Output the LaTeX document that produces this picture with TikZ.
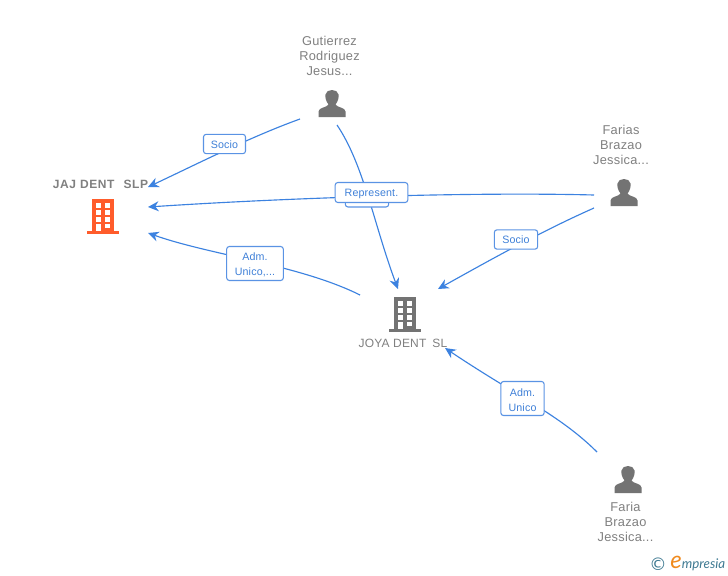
\documentclass[tikz,border=0pt]{standalone}
\usepackage{fontspec}
\setmainfont{Liberation Sans}
\newfontfamily\logofont{Lato}
\newfontfamily\copyfont{DejaVu Sans}
\usetikzlibrary{arrows.meta}
\definecolor{linkblue}{HTML}{3C82E0}
\definecolor{boxblue}{HTML}{5A93E4}
\definecolor{labelblue}{HTML}{3F80D8}
\definecolor{nodegray}{HTML}{737373}
\definecolor{textgray}{HTML}{808080}
\definecolor{orangeb}{HTML}{FF5C2B}
\definecolor{logoteal}{HTML}{3F7A92}
\definecolor{logoorange}{HTML}{F08A1D}
\tikzset{
  x=0.75pt,y=-0.75pt,
  link/.style={draw=linkblue,line width=0.85pt,-{Stealth[length=8pt,width=7.5pt,inset=2.6pt]}},
  rel/.style={draw=boxblue,line width=0.8pt,fill=white,rounded corners=2pt,text=labelblue,
    font=\addfontfeatures{LetterSpace=1.5}\fontsize{8}{11.3}\selectfont,align=center,inner sep=0pt},
  who/.style={text=textgray,font=\addfontfeatures{LetterSpace=2}\fontsize{9.6}{11.3}\selectfont,align=center,inner sep=0pt},
  firm/.style={text=textgray,font=\bfseries\addfontfeatures{LetterSpace=5}\fontsize{9}{10}\selectfont,inner sep=0pt},
  firmb/.style={text=textgray,font=\addfontfeatures{LetterSpace=1.5}\fontsize{9}{10}\selectfont,inner sep=0pt}
}
% person icon centred on #1
\newcommand{\personicon}[1]{%
  \begin{scope}[shift={(#1)}]
    \fill[nodegray] (-13.5,13.5) -- (-13.5,8) .. controls (-13.5,4) and (-5,4) .. (-3.5,1)
      .. controls (-6,-2) and (-7,-6) .. (-6.5,-9) .. controls (-6,-15) and (6,-15) .. (6.5,-9)
      .. controls (7,-6) and (6,-2) .. (3.5,1) .. controls (5,4) and (13.5,4) .. (13.5,8)
      -- (13.5,13.5) -- cycle;
  \end{scope}}
% building icon centred on #1
\newcommand{\buildicon}[2]{%
  \begin{scope}[shift={(#1)}]
    \fill[#2] (-16,14.5) rectangle (16,17.5);
    \fill[#2] (-11,-17) rectangle (11,16);
    \foreach \yy in {-13,-6,1}{
      \fill[white] (-7,\yy) rectangle (-2.5,\yy+4.5);
      \fill[white] (2,\yy) rectangle (6.5,\yy+4.5);}
    \fill[white] (-7,7.5) rectangle (-2.5,14.5);
    \fill[white] (2,7.5) rectangle (6.5,12);
  \end{scope}}
\begin{document}
\begin{tikzpicture}
\useasboundingbox (0,0) rectangle (728,575);
\fill[white] (0,0) rectangle (728,575);

% free connector ends
\coordinate (gutA) at (300,119);
\coordinate (gutB) at (337,125);
\coordinate (farA) at (594,195);
\coordinate (farB) at (594,208);
\coordinate (joyaOutA) at (360,295);
\coordinate (fariaOut) at (597,452);
\coordinate (jajInA) at (148,187);
\coordinate (jajInB) at (148,207);
\coordinate (jajInC) at (148,233);
\coordinate (joyaInA) at (398,289);
\coordinate (joyaInB) at (438,289);
\coordinate (joyaInC) at (445,348);

% connectors
\draw[link] (gutA) .. controls (250,137) and (195,165) .. (jajInA);
\draw[link] (gutB) .. controls (364,165) and (374,225) .. (joyaInA);
\draw[link] (farA) .. controls (480,192) and (300,197) .. (jajInB);
\draw[link] (farB) .. controls (540,232) and (490,260) .. (joyaInB);
\draw[link] (joyaOutA) .. controls (300,265) and (210,255) .. (jajInC);
\draw[link] (fariaOut) .. controls (560,415) and (515,395) .. (joyaInC);

% relation labels
\node[rel,minimum width=32.5pt,minimum height=15pt] (hidden) at (367,197) {};
\node[rel,minimum width=31.5pt,minimum height=14.5pt] (socioA) at (224.5,144) {\rule{0pt}{6.8pt}Socio};
\node[rel,minimum width=54.5pt,minimum height=15pt] (repr) at (371.5,192.5) {\rule{0pt}{7.2pt}Represent.};
\node[rel,minimum width=32.5pt,minimum height=14.5pt] (socioB) at (516,239.5) {\rule{0pt}{6.8pt}Socio};
\node[rel,minimum width=42.5pt,minimum height=25.5pt] (admA) at (255,263.5) {\rule{0pt}{8pt}Adm.\\Unico,...};
\node[rel,minimum width=32.5pt,minimum height=25.5pt] (admB) at (522.5,398.5) {\rule{0pt}{8pt}Adm.\\Unico};

% entities
\buildicon{103,216}{orangeb}
\buildicon{405,314}{nodegray}
\personicon{332,103.5}
\personicon{624,192.5}
\personicon{628,479.5}

\node[firm] (jaj) at (100.5,184) {JAJ DENT\hspace{0.75em}SLP};
\node[firmb] (joya) at (403,343) {JOYA DENT\hspace{0.5em}SL};
\node[who] (gut) at (329.5,56) {Gutierrez\\Rodriguez\\Jesus...};
\node[who] (far) at (621,145) {Farias\\Brazao\\Jessica...};
\node[who] (faria) at (625.5,522) {Faria\\Brazao\\Jessica...};

% logo
\node[inner sep=0pt,text=logoteal,font=\copyfont\fontsize{13}{13}\selectfont] (copy) at (658,564) {©};
\node[inner sep=0pt,anchor=base west,font=\logofont\itshape\fontsize{10}{10}\selectfont,text=logoteal] (logo) at (670,568)
  {\textcolor{logoorange}{\fontsize{18}{18}\selectfont e}mpresia};
\end{tikzpicture}
\end{document}
